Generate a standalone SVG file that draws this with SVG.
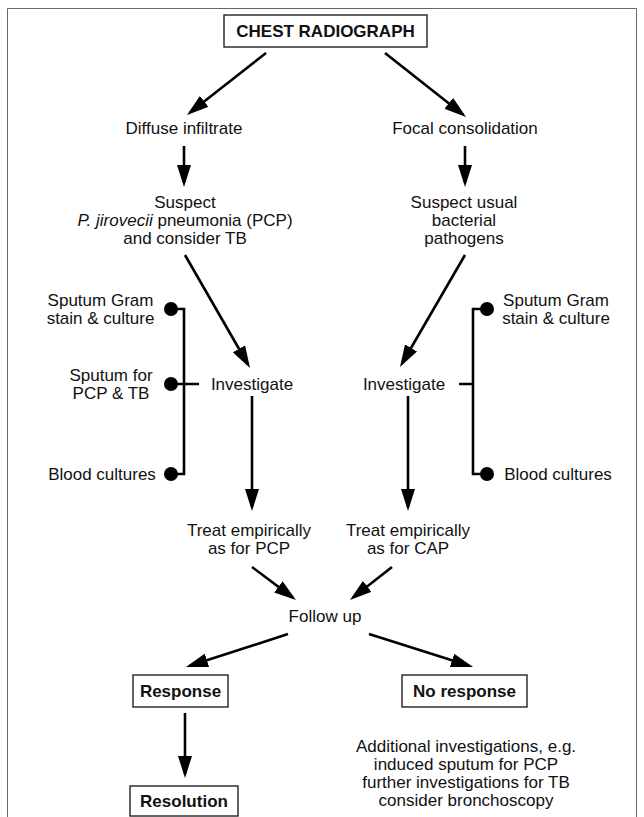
<svg xmlns="http://www.w3.org/2000/svg" width="644" height="817" viewBox="0 0 644 817">
<defs>
<style>
text{font-family:"Liberation Sans",Arial,sans-serif;font-size:17px;fill:#111;}
.c{text-anchor:middle;}
.b{font-weight:bold;}
.box{fill:#fff;stroke:#222;stroke-width:1.4;}
.ln{fill:none;stroke:#000;stroke-width:2.6;}
.ar{fill:none;stroke:#000;stroke-width:2.6;marker-end:url(#ah);}
.dot{fill:#000;}
</style>
<marker id="ah" viewBox="0 0 22 14" markerUnits="userSpaceOnUse" markerWidth="22" markerHeight="14" refX="18" refY="7" orient="auto"><path d="M0,0 L22,7 L0,14 z" fill="#000"/></marker>
</defs>
<path d="M7.5,817 V8.5 H636.5 V817" fill="none" stroke="#666" stroke-width="1"/>
<g id="connectors">
<line class="ar" x1="266" y1="53" x2="190.1" y2="112.5"/>
<line class="ar" x1="385" y1="53" x2="462.9" y2="114.5"/>
<line class="ar" x1="184" y1="146" x2="184" y2="183"/>
<line class="ar" x1="465" y1="146" x2="465" y2="183"/>
<line class="ar" x1="185" y1="255" x2="248" y2="364.5"/>
<line class="ar" x1="465" y1="255" x2="402" y2="363.5"/>
<line class="ar" x1="252" y1="396" x2="252" y2="507"/>
<line class="ar" x1="408" y1="396" x2="408" y2="507"/>
<line class="ar" x1="252" y1="567" x2="292.8" y2="597.6"/>
<line class="ar" x1="392" y1="567" x2="353.1" y2="597.5"/>
<line class="ar" x1="288" y1="634" x2="189.8" y2="665.8"/>
<line class="ar" x1="369" y1="634" x2="469.2" y2="665.8"/>
<line class="ar" x1="185" y1="713" x2="185" y2="774"/>
<path class="ln" d="M171,309 H184 V474 H171 M171,384 H199"/>
<path class="ln" d="M487,309 H473 V474 H487 M459,384 H473"/>
</g>
<g id="chest"><rect class="box" x="224" y="15" width="203" height="32"/><text class="c b" x="325.5" y="37">CHEST RADIOGRAPH</text></g>
<g id="diffuse"><text class="c" x="184" y="134">Diffuse infiltrate</text></g>
<g id="focal"><text class="c" x="465" y="134">Focal consolidation</text></g>
<g id="suspect-pcp"><text class="c" x="185" y="208">Suspect</text><text class="c" x="185" y="226"><tspan font-style="italic">P. jirovecii</tspan> pneumonia (PCP)</text><text class="c" x="185" y="244">and consider TB</text></g>
<g id="suspect-bact"><text class="c" x="464" y="208">Suspect usual</text><text class="c" x="464" y="226">bacterial</text><text class="c" x="464" y="244">pathogens</text></g>
<g id="l-sputum-gram"><circle class="dot" cx="171" cy="309" r="7"/><text class="c" x="100.5" y="306">Sputum Gram</text><text class="c" x="100.5" y="324">stain &amp; culture</text></g>
<g id="l-sputum-pcp"><circle class="dot" cx="171" cy="384" r="7"/><text class="c" x="111" y="381">Sputum for</text><text class="c" x="111" y="399">PCP &amp; TB</text></g>
<g id="l-blood"><circle class="dot" cx="171" cy="474" r="7"/><text class="c" x="102" y="480">Blood cultures</text></g>
<g id="r-sputum-gram"><circle class="dot" cx="487" cy="309" r="7"/><text class="c" x="556" y="306">Sputum Gram</text><text class="c" x="556" y="324">stain &amp; culture</text></g>
<g id="r-blood"><circle class="dot" cx="487" cy="474" r="7"/><text class="c" x="558" y="480">Blood cultures</text></g>
<g id="investigate-l"><text class="c" x="252" y="390">Investigate</text></g>
<g id="investigate-r"><text class="c" x="404" y="390">Investigate</text></g>
<g id="treat-pcp"><text class="c" x="249" y="536">Treat empirically</text><text class="c" x="249" y="554">as for PCP</text></g>
<g id="treat-cap"><text class="c" x="408" y="536">Treat empirically</text><text class="c" x="408" y="554">as for CAP</text></g>
<g id="follow"><text class="c" x="325" y="622">Follow up</text></g>
<g id="response"><rect class="box" x="133" y="675" width="95" height="32"/><text class="c b" x="180.5" y="697">Response</text></g>
<g id="noresponse"><rect class="box" x="402" y="675" width="125" height="32"/><text class="c b" x="464.5" y="697">No response</text></g>
<g id="resolution"><rect class="box" x="130" y="786" width="108" height="30"/><text class="c b" x="184" y="807">Resolution</text></g>
<g id="additional"><text class="c" x="466" y="752">Additional investigations, e.g.</text><text class="c" x="466" y="770">induced sputum for PCP</text><text class="c" x="466" y="788">further investigations for TB</text><text class="c" x="466" y="806">consider bronchoscopy</text></g>
</svg>
